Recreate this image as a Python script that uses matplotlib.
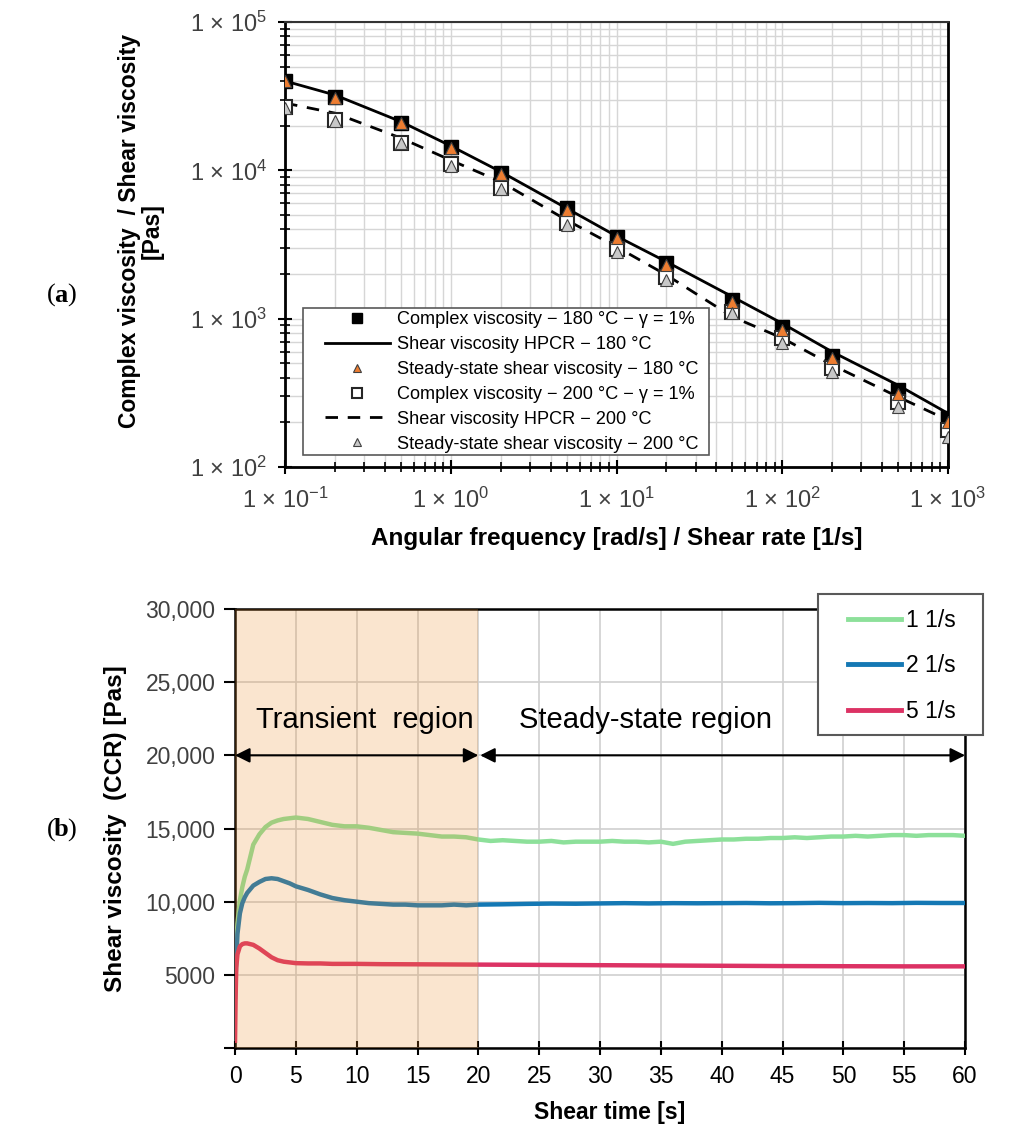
import matplotlib
matplotlib.use("Agg")
import matplotlib.pyplot as plt
from matplotlib.patches import Rectangle
from matplotlib.ticker import FixedLocator, FixedFormatter, LogLocator, NullFormatter

plt.rcParams["font.family"] = ["Liberation Sans", "DejaVu Sans"]
plt.rcParams["mathtext.fontset"] = "custom"
plt.rcParams["mathtext.rm"] = "Liberation Sans"
plt.rcParams["mathtext.it"] = "Liberation Sans:italic"
plt.rcParams["mathtext.bf"] = "Liberation Sans:bold"

# === (a) viscosity curves ===
freq = [0.1, 0.2, 0.5, 1, 2, 5, 10, 20, 50, 100, 200, 500, 1000]

complex_180 = [40200, 31300, 20700, 14300, 9630, 5540, 3570, 2360, 1335, 883, 560, 330, 213]
steady_180 = [40000, 30900, 20700, 14060, 9400, 5400, 3515, 2300, 1300, 837, 540, 310, 202]
hpcr_180 = [40000, 32200, 21300, 14600, 9790, 5550, 3600, 2420, 1406, 929, 598, 356, 230]

complex_200 = [26600, 21850, 15350, 10970, 7630, 4390, 2930, 1917, 1113, 736, 462, 275, 177]
steady_200 = [26200, 21500, 15200, 10690, 7450, 4280, 2830, 1820, 1087, 686, 438, 255, 160]
hpcr_200 = [28400, 24300, 16500, 11700, 8380, 4620, 3050, 1970, 1030, 740, 487, 297, 207]

legend_a = [
    "Complex viscosity − 180 °C − γ = 1%",
    "Shear viscosity HPCR − 180 °C",
    "Steady-state shear viscosity − 180 °C",
    "Complex viscosity − 200 °C − γ = 1%",
    "Shear viscosity HPCR − 200 °C",
    "Steady-state shear viscosity − 200 °C",
]

x_ticks_a = [0.1, 1, 10, 100, 1000]
x_labels_a = ["1 × 10$^{\\mathregular{−1}}$", "1 × 10$^{\\mathregular{0}}$", "1 × 10$^{\\mathregular{1}}$",
              "1 × 10$^{\\mathregular{2}}$", "1 × 10$^{\\mathregular{3}}$"]
y_ticks_a = [100, 1000, 10000, 100000]
y_labels_a = ["1 × 10$^{\\mathregular{2}}$", "1 × 10$^{\\mathregular{3}}$", "1 × 10$^{\\mathregular{4}}$",
              "1 × 10$^{\\mathregular{5}}$"]

# === (b) shear viscosity vs time ===
t_1 = [0, 0.1, 0.2, 0.4, 0.6, 0.8, 1, 1.5, 2, 2.5, 3, 3.5, 4, 4.5, 5, 6, 7, 8, 9, 10,
       11, 12, 13, 14, 15, 16, 17, 18, 19, 20, 21, 22, 23, 24, 25, 26, 27, 28, 29, 30,
       31, 32, 33, 34, 35, 36, 37, 38, 39, 40, 41, 42, 43, 44, 45, 46, 47, 48, 49, 50,
       51, 52, 53, 54, 55, 56, 57, 58, 59, 60]
visc_1 = [4000, 7000, 8500, 10100, 11000, 11700, 12200, 13900, 14600, 15100, 15400, 15550, 15650, 15700, 15750, 15650, 15450, 15250, 15150, 15150,
          15050, 14900, 14750, 14700, 14650, 14550, 14450, 14450, 14400, 14250, 14150, 14200, 14150, 14100, 14100, 14150, 14050, 14100, 14100, 14100,
          14150, 14100, 14100, 14050, 14100, 13950, 14100, 14150, 14200, 14250, 14250, 14300, 14300, 14350, 14350, 14400, 14350, 14400, 14450, 14450,
          14500, 14450, 14500, 14550, 14550, 14500, 14550, 14550, 14550, 14500]

t_2 = [0, 0.1, 0.2, 0.4, 0.6, 0.8, 1, 1.5, 2, 2.5, 3, 3.5, 4, 4.5, 5, 6, 7, 8, 9, 10,
       11, 12, 13, 14, 15, 16, 17, 18, 19, 20, 22, 24, 26, 28, 30, 32, 34, 36, 38, 40,
       42, 44, 46, 48, 50, 52, 54, 56, 58, 60]
visc_2 = [3500, 6000, 7800, 9200, 9900, 10300, 10600, 11100, 11350, 11550, 11600, 11550, 11400, 11250, 11050, 10800, 10500, 10250, 10100, 10000,
          9900, 9850, 9800, 9800, 9750, 9750, 9750, 9800, 9750, 9800, 9820, 9850, 9870, 9860, 9880, 9900, 9880, 9900, 9890, 9900,
          9910, 9890, 9900, 9920, 9900, 9910, 9900, 9920, 9910, 9910]

t_5 = [0, 0.05, 0.1, 0.2, 0.4, 0.6, 0.8, 1, 1.5, 2, 2.5, 3, 3.5, 4, 5, 6, 7, 8, 10, 12,
       15, 20, 25, 30, 35, 40, 45, 50, 55, 60]
visc_5 = [500, 3500, 5500, 6400, 6950, 7100, 7150, 7150, 7050, 6800, 6500, 6200, 6000, 5900, 5800, 5780, 5780, 5750, 5750, 5730,
          5720, 5700, 5680, 5660, 5640, 5620, 5600, 5590, 5580, 5580]

rate_labels = ["1 1/s", "2 1/s", "5 1/s"]
rate_colors = ["#8DE09A", "#1478B4", "#DC3264"]

y_ticks_b = [0, 5000, 10000, 15000, 20000, 25000, 30000]
y_labels_b = ["", "5000", "10,000", "15,000", "20,000", "25,000", "30,000"]
x_ticks_b = list(range(0, 61, 5))

TICK_COLOR = "#404040"
W, H = 1010, 1133


def frame_box(fig, x0, y0, x1, y1, lw):
    # legend frame drawn by hand (pixel box, origin top-left) so the padding matches
    fig.patches.append(Rectangle((x0 / W, 1 - y1 / H), (x1 - x0) / W, (y1 - y0) / H,
                                 transform=fig.transFigure, facecolor="white",
                                 edgecolor="#595959", lw=lw, zorder=4))


def plot_a(fig):
    ax = fig.add_axes([0.2822, 0.5878, 0.6564, 0.3928])
    ax.set_xscale("log")
    ax.set_yscale("log")
    ax.set_xlim(0.1, 1000)
    ax.set_ylim(100, 100000)
    ax.grid(True, which="both", color="#d6d6d6", lw=1, zorder=0)
    ax.set_axisbelow(True)

    (l1,) = ax.plot(freq, hpcr_180, color="black", lw=2, zorder=2)
    (l2,) = ax.plot(freq, hpcr_200, color="black", lw=2, dashes=(4.5, 3.5), zorder=2)
    (m1,) = ax.plot(freq, complex_180, "s", ms=10, mfc="black", mec="black", zorder=3)
    (m2,) = ax.plot(freq, complex_200, "s", ms=10, mfc="white", mec="#262626", mew=1.5, zorder=3)
    (t1,) = ax.plot(freq, steady_180, "^", ms=8, mfc="#ED7D31", mec="#404040", mew=0.8, zorder=4)
    (t2,) = ax.plot(freq, steady_200, "^", ms=8, mfc="#C8C8C8", mec="#404040", mew=0.8, zorder=4)

    ax.xaxis.set_major_locator(FixedLocator(x_ticks_a))
    ax.xaxis.set_major_formatter(FixedFormatter(x_labels_a))
    ax.yaxis.set_major_locator(FixedLocator(y_ticks_a))
    ax.yaxis.set_major_formatter(FixedFormatter(y_labels_a))
    ax.xaxis.set_minor_locator(LogLocator(base=10, subs=range(2, 10), numticks=20))
    ax.yaxis.set_minor_locator(LogLocator(base=10, subs=range(2, 10), numticks=20))
    ax.xaxis.set_minor_formatter(NullFormatter())
    ax.yaxis.set_minor_formatter(NullFormatter())
    ax.tick_params(which="major", direction="inout", length=10, width=1.5,
                   labelsize=17, labelcolor=TICK_COLOR)
    ax.tick_params(which="minor", direction="inout", length=7, width=1.2)
    ax.tick_params(axis="x", pad=10)
    ax.tick_params(axis="y", pad=8)

    for side in ["left", "bottom", "right"]:
        ax.spines[side].set_linewidth(2)
        ax.spines[side].set_color("black")
    ax.spines["top"].set_linewidth(1.5)
    ax.spines["top"].set_color("#333333")

    frame_box(fig, 303, 308, 709, 455, 1.2)
    handles = [m1, l1, t1, m2, l2, t2]
    leg = fig.legend(handles, legend_a, loc="center left",
                     bbox_to_anchor=(325 / W, 1 - 382 / H), bbox_transform=fig.transFigure,
                     fontsize=13.1, frameon=False, labelspacing=0.43, handlelength=3.55,
                     handletextpad=0.38, borderpad=0, markerscale=0.65, borderaxespad=0)
    leg.set_zorder(5)

    fig.text(141 / W, 1 - 231 / H, "Complex viscosity  / Shear viscosity\n[Pas]",
             rotation=90, ha="center", va="center", multialignment="center",
             fontsize=16.5, fontweight="bold", linespacing=1.0)
    fig.text(617 / W, 1 - 538 / H, "Angular frequency [rad/s] / Shear rate [1/s]",
             ha="center", va="center", fontsize=17.5, fontweight="bold")


def plot_b(fig):
    ax = fig.add_axes([0.2327, 0.0750, 0.7228, 0.3875])
    ax.set_xlim(0, 60)
    ax.set_ylim(0, 30000)
    ax.grid(True, color="#d0d0d0", lw=1.2, zorder=0)
    ax.set_axisbelow(True)

    lines = []
    for t, v, c in zip([t_1, t_2, t_5], [visc_1, visc_2, visc_5], rate_colors):
        (ln,) = ax.plot(t, v, color=c, lw=3.2, zorder=3)
        lines.append(ln)

    # --- shaded transient region (overlay on top of curves) ---
    ax.axvspan(0, 20, color="#EB8C28", alpha=0.22, lw=0, zorder=5)

    # --- region arrows ---
    ax.annotate("", xy=(0, 20000), xytext=(20, 20000),
                arrowprops=dict(arrowstyle="<|-|>", color="black", lw=1.5,
                                mutation_scale=22, shrinkA=0, shrinkB=0), zorder=6)
    ax.annotate("", xy=(20.15, 20000), xytext=(60, 20000),
                arrowprops=dict(arrowstyle="<|-|>", color="black", lw=1.5,
                                mutation_scale=22, shrinkA=0, shrinkB=0), zorder=6)
    ax.text(10.7, 22400, "Transient  region", ha="center", va="center", fontsize=21, zorder=6)
    ax.text(33.7, 22400, "Steady-state region", ha="center", va="center", fontsize=21, zorder=6)

    ax.set_xticks(x_ticks_b)
    ax.set_yticks(y_ticks_b)
    ax.set_yticklabels(y_labels_b)
    ax.tick_params(axis="x", direction="inout", length=10, width=1.5, labelsize=16.5, pad=7)
    ax.tick_params(axis="y", direction="out", length=8, width=1.5, labelsize=16.5,
                   labelcolor=TICK_COLOR, pad=6)
    for side in ax.spines:
        ax.spines[side].set_linewidth(1.8)
        ax.spines[side].set_color("black")

    frame_box(fig, 818, 594, 983, 735, 1.5)
    leg = fig.legend(lines, rate_labels, loc="center left",
                     bbox_to_anchor=(841 / W, 1 - 666 / H), bbox_transform=fig.transFigure,
                     fontsize=16.5, frameon=False, labelspacing=1.0, handlelength=2.3,
                     handletextpad=0.25, borderpad=0.3, borderaxespad=0)
    leg.set_zorder(5)
    for ln in leg.get_lines():
        ln.set_linewidth(3.5)

    fig.text(116 / W, 1 - 829 / H, "Shear viscosity  (CCR) [Pas]", rotation=90,
             ha="center", va="center", fontsize=17.5, fontweight="bold")
    fig.text(610 / W, 1 - 1112 / H, "Shear time [s]", ha="center", va="center",
             fontsize=16.5, fontweight="bold")


def panel_label(fig, letter, y_px):
    fig.text(47 / W, 1 - y_px / H, "(", ha="left", va="center", fontsize=19,
             family="Liberation Serif")
    fig.text(54 / W, 1 - y_px / H, letter, ha="left", va="center", fontsize=19,
             family="Liberation Serif", fontweight="bold")
    fig.text(67.5 / W, 1 - y_px / H, ")", ha="left", va="center", fontsize=19,
             family="Liberation Serif")


def main():
    fig = plt.figure(figsize=(W / 100, H / 100), dpi=100)
    plot_a(fig)
    plot_b(fig)
    panel_label(fig, "a", 295)
    panel_label(fig, "b", 830)
    fig.savefig("out.png", dpi=100)


if __name__ == "__main__":
    main()
